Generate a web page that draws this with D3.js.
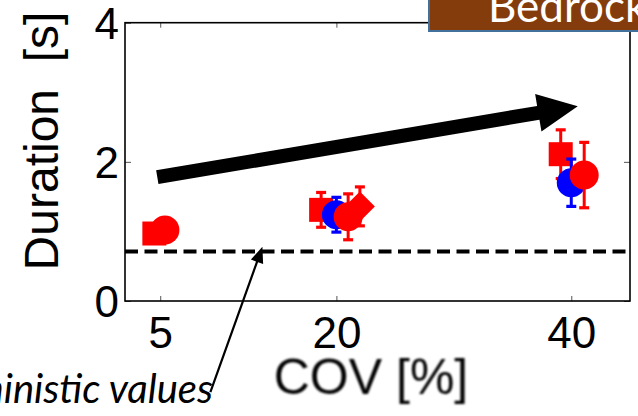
<!DOCTYPE html>
<html><head><meta charset="utf-8">
<script src="https://cdn.jsdelivr.net/npm/d3@7"></script>
<style>html,body{margin:0;padding:0;background:#fff;overflow:hidden}</style>
</head><body><svg id="chart" width="638" height="416"></svg>
<script>
// Axis ticks
const covTicks = [5, 20, 40];
const durationTicks = [0, 2, 4];

// Red squares: COV position, mean duration, error half-length
const squareCov = [4.5, 18.7, 39.1];
const squareDur = [0.97, 1.31, 2.11];
const squareErr = [0, 0.25, 0.35];
// Blue circles
const blueCov = [20.0, 40.0];
const blueDur = [1.24, 1.70];
const blueErr = [0.25, 0.34];
// Red circles
const redCov = [5.4, 21.0, 41.1];
const redDur = [1.02, 1.21, 1.81];
const redErr = [0, 0.33, 0.47];
// Red diamond
const diamondCov = [22.0];
const diamondDur = [1.36];
const diamondErr = [0.28];

// Deterministic reference level and annotation arrows (data units)
const deterministic = 0.71;
const trendFrom = [4.75, 1.78];
const trendTo = [40.55, 2.80];
const noteFrom = [9.27, -1.31];
const noteTo = [13.7, 0.78];

const svg = d3.select("#chart");
const m = {left: 125, right: 630, top: 22.7, bottom: 301};

const x = d3.scaleLinear().domain([2, 45]).range([m.left, m.right]);
const y = d3.scaleLinear().domain([0, 4]).range([m.bottom, m.top]);

const defs = svg.append("defs");
defs.append("filter").attr("id", "soft")
  .append("feGaussianBlur").attr("stdDeviation", 0.9);

const tickFont = "'Liberation Sans', Arial, sans-serif";

// Axes with inward ticks on all four sides
const gx = svg.append("g").attr("transform", `translate(0,${m.bottom})`)
  .call(d3.axisBottom(x).tickValues(covTicks).tickSize(-5).tickPadding(16).tickFormat(d3.format("d")));
const gxt = svg.append("g").attr("transform", `translate(0,${m.top})`)
  .call(d3.axisTop(x).tickValues(covTicks).tickSize(-5).tickFormat(""));
const gy = svg.append("g").attr("transform", `translate(${m.left},0)`)
  .call(d3.axisLeft(y).tickValues(durationTicks).tickSize(-6).tickPadding(6).tickFormat(d3.format("d")));
const gyr = svg.append("g").attr("transform", `translate(${m.right},0)`)
  .call(d3.axisRight(y).tickValues(durationTicks).tickSize(-6).tickFormat(""));

[gx, gxt, gy, gyr].forEach(g => {
  g.select(".domain").remove();
  g.selectAll(".tick line").attr("stroke", "#555").attr("stroke-width", 1);
  g.selectAll(".tick text").attr("fill", "#000")
    .style("font-family", tickFont).style("font-size", "44px");
});
gy.selectAll(".tick text").attr("dy", "0.35em");

// Plot frame
svg.append("rect")
  .attr("x", m.left).attr("y", m.top)
  .attr("width", m.right - m.left).attr("height", m.bottom - m.top)
  .attr("fill", "none").attr("stroke", "#000").attr("stroke-width", 1.6);

// Deterministic level
svg.append("line")
  .attr("x1", x(2)).attr("x2", x(44.8))
  .attr("y1", y(deterministic)).attr("y2", y(deterministic))
  .attr("stroke", "#000").attr("stroke-width", 4)
  .attr("stroke-dasharray", "13 6.5");

// Arrow outline: shaft plus triangular head
function arrowPolygon(p0, p1, shaft, headLen, headHalf) {
  const dx = p1[0] - p0[0], dy = p1[1] - p0[1];
  const L = Math.hypot(dx, dy);
  const ux = dx / L, uy = dy / L, nx = -uy, ny = ux;
  const bx = p1[0] - ux * headLen, by = p1[1] - uy * headLen;
  const s = shaft / 2;
  return [
    [p0[0] + nx * s, p0[1] + ny * s],
    [bx + nx * s, by + ny * s],
    [bx + nx * headHalf, by + ny * headHalf],
    [p1[0], p1[1]],
    [bx - nx * headHalf, by - ny * headHalf],
    [bx - nx * s, by - ny * s],
    [p0[0] - nx * s, p0[1] - ny * s]
  ];
}

// Trend arrow
const tp0 = [x(trendFrom[0]), y(trendFrom[1])];
const tp1 = [x(trendTo[0]), y(trendTo[1])];
svg.append("polygon")
  .attr("points", arrowPolygon(tp0, tp1, 14, 40, 19).map(p => p.join(",")).join(" "))
  .attr("fill", "#000");

// Markers with error bars
function drawSeries(cov, dur, err, color, shape) {
  const g = svg.append("g");
  cov.forEach((c, i) => {
    const cx = x(c), cy = y(dur[i]);
    if (err[i] > 0) {
      const y1 = y(dur[i] + err[i]), y2 = y(dur[i] - err[i]);
      g.append("line").attr("x1", cx).attr("x2", cx).attr("y1", y1).attr("y2", y2)
        .attr("stroke", color).attr("stroke-width", 3);
      [y1, y2].forEach(yy => g.append("line")
        .attr("x1", cx - 5).attr("x2", cx + 5).attr("y1", yy).attr("y2", yy)
        .attr("stroke", color).attr("stroke-width", 3.2));
    }
    if (shape === "square") {
      g.append("rect").attr("x", cx - 12).attr("y", cy - 12)
        .attr("width", 24).attr("height", 24).attr("fill", color);
    } else if (shape === "circle") {
      g.append("circle").attr("cx", cx).attr("cy", cy).attr("r", 14.5).attr("fill", color);
    } else {
      g.append("path")
        .attr("d", d3.symbol().type(d3.symbolSquare).size(450)())
        .attr("transform", `translate(${cx},${cy}) rotate(45)`)
        .attr("fill", color);
    }
  });
}
drawSeries(squareCov, squareDur, squareErr, "#ff0000", "square");
drawSeries(blueCov, blueDur, blueErr, "#0000ff", "circle");
drawSeries(redCov, redDur, redErr, "#ff0000", "circle");
drawSeries(diamondCov, diamondDur, diamondErr, "#ff0000", "diamond");

// Annotation arrow towards the deterministic line
const np0 = [x(noteFrom[0]), y(noteFrom[1])];
const np1 = [x(noteTo[0]), y(noteTo[1])];
svg.append("polygon")
  .attr("points", arrowPolygon(np0, np1, 2.2, 16, 6.5).map(p => p.join(",")).join(" "))
  .attr("fill", "#000");

svg.append("text")
  .attr("x", 213).attr("y", 403).attr("text-anchor", "end")
  .style("font-family", "Lato, 'Open Sans', sans-serif")
  .style("font-style", "italic").style("font-size", "40px")
  .attr("fill", "#000")
  .text("Deterministic values");

// Axis titles
svg.append("text")
  .attr("transform", "translate(58,141) rotate(-90)")
  .attr("text-anchor", "middle")
  .style("font-family", tickFont).style("font-size", "48px")
  .attr("fill", "#000")
  .attr("xml:space", "preserve")
  .text("Duration  [s]");

svg.append("text")
  .attr("x", 371).attr("y", 394).attr("text-anchor", "middle")
  .style("font-family", tickFont).style("font-size", "50px")
  .attr("fill", "#000").attr("filter", "url(#soft)")
  .text("COV [%]");

// Rock-type tag
svg.append("rect")
  .attr("x", 429).attr("y", -5).attr("width", 220).attr("height", 36)
  .attr("fill", "#843c0c").attr("stroke", "#41719c").attr("stroke-width", 2);
svg.append("text")
  .attr("x", 488).attr("y", 22)
  .style("font-family", "Lato, 'Open Sans', sans-serif").style("font-size", "44px")
  .attr("fill", "#fff")
  .text("Bedrock");
</script>
</body></html>
